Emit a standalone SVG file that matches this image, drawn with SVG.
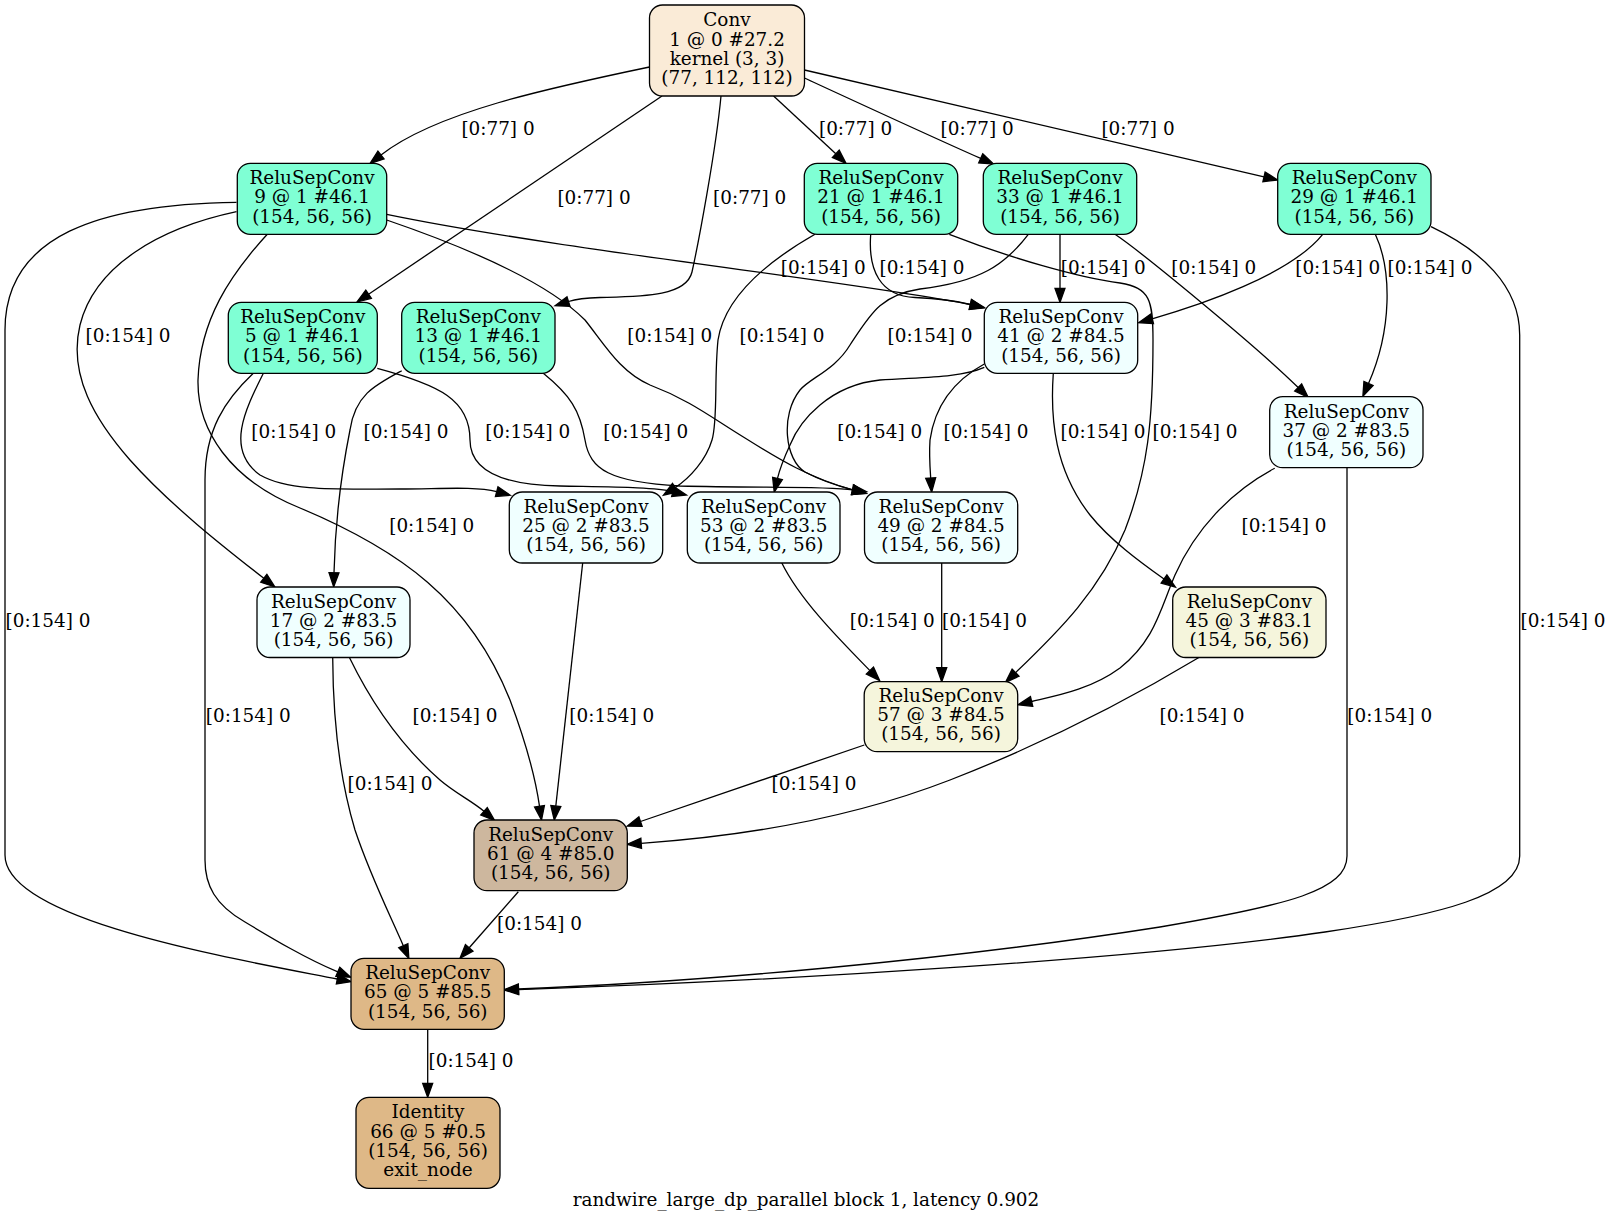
<svg xmlns="http://www.w3.org/2000/svg" width="1612" height="1224" viewBox="0 0 1612 1224">
<style>
text { font-family: "DejaVu Serif", "Liberation Serif", serif; font-size: 18.4px; text-anchor: middle; fill: #000; }
.node rect { stroke: #000; stroke-width: 1.3; }
.edge path { fill: none; stroke: #000; stroke-width: 1.3; marker-end: url(#ah); }
.c0 { fill: #FAEBD7; } .c1 { fill: #7FFFD4; } .c2 { fill: #F0FFFF; } .c3 { fill: #F5F5DC; } .c4 { fill: #CDB79E; } .c5 { fill: #DEB887; }
</style>
<defs>
<marker id="ah" viewBox="0 -5 14 10" refX="0" refY="0" markerWidth="14" markerHeight="10" markerUnits="userSpaceOnUse" orient="auto" overflow="visible">
<path d="M0,-5 L14,0 L0,5 z" fill="#000" stroke="#000" stroke-width="1.3"/>
</marker>
</defs>
<rect width="1612" height="1224" fill="#fff"/>
<g id="edges">
<g class="edge" id="e1_9"><path d="M649.5,67 C549,88 436,112 381,155"/><text x="498" y="135">[0:77] 0</text></g>
<g class="edge" id="e1_5"><path d="M662,96 L368.6,294.2"/><text x="594" y="204">[0:77] 0</text></g>
<g class="edge" id="e1_13"><path d="M721,96 C716,150 698,245 692,272 C686,297 640,296.5 600,297.5 C585,298 578,298.5 568.5,301.5"/><text x="749.7" y="204">[0:77] 0</text></g>
<g class="edge" id="e1_21"><path d="M773.6,96 L835.8,153.8"/><text x="855.6" y="135">[0:77] 0</text></g>
<g class="edge" id="e1_33"><path d="M804.5,78 C850,99 930,136 980.7,158.4"/><text x="977.2" y="135">[0:77] 0</text></g>
<g class="edge" id="e1_29"><path d="M804.5,70 L1264,176.8"/><text x="1138" y="135">[0:77] 0</text></g>
<g class="edge" id="e9_41"><path d="M386.7,214.3 C560,250 860,282 970.4,304.5"/><text x="823.3" y="274">[0:154] 0</text></g>
<g class="edge" id="e21_41"><path d="M870.7,234.3 C868,270 880,296 915,297.5 C940,298.5 955,300.5 970.4,304.5"/><text x="922" y="274">[0:154] 0</text></g>
<g class="edge" id="e33_41"><path d="M1060,234.3 L1060,288.3"/><text x="1103.3" y="274">[0:154] 0</text></g>
<g class="edge" id="e33_37"><path d="M1115,234.3 C1140,251 1255,345 1298.2,387.5"/><text x="1213.8" y="274">[0:154] 0</text></g>
<g class="edge" id="e29_41"><path d="M1322.7,234.3 C1290,275 1200,305 1152.1,318.8"/><text x="1337.7" y="274">[0:154] 0</text></g>
<g class="edge" id="e29_37"><path d="M1375.3,234.3 C1392,270 1392,330 1368.5,383.5"/><text x="1430" y="274">[0:154] 0</text></g>
<g class="edge" id="e9_17"><path d="M236.5,211.7 C160,228 95,265 80,325 C68,375 95,420 130,460 C170,505 225,548 263.8,578.3"/><text x="128" y="342">[0:154] 0</text></g>
<g class="edge" id="e9_49"><path d="M386.7,220 C480,252 550,285 585,320 C605,345 620,372 650,385 C690,400 715,420 745,438 C780,460 810,478 852.7,489.8"/><text x="669.8" y="342">[0:154] 0</text></g>
<g class="edge" id="e21_25"><path d="M815,234.3 C770,260 725,295 718,340 C714,380 718,420 712,440 C706,460 690,478 675.2,487.6"/><text x="782" y="342">[0:154] 0</text></g>
<g class="edge" id="e33_49"><path d="M1028.3,234.3 C1005,265 980,282 920,289 C880,295 870,315 850,345 C835,370 810,378 800,390 C780,415 785,460 805,472 C820,480 838,486 852.7,489.8"/><text x="930" y="342">[0:154] 0</text></g>
<g class="edge" id="e5_25"><path d="M263.3,373.3 C245,410 225,450 260,475 C290,492 340,489 400,489 C440,489 475,486 496.7,491.7"/><text x="293.8" y="438">[0:154] 0</text></g>
<g class="edge" id="e13_17"><path d="M401.7,370.7 C375,385 355,395 350,430 C340,480 335,530 334,572.7"/><text x="406" y="438">[0:154] 0</text></g>
<g class="edge" id="e5_53"><path d="M377.3,368.3 C440,385 470,400 470,440 C470,470 500,485 560,486 C610,487 655,487 672.9,491.6"/><text x="527.8" y="438">[0:154] 0</text></g>
<g class="edge" id="e13_49"><path d="M543.3,373.3 C570,395 580,410 585,440 C590,470 610,482 680,486 C760,488 825,486 852.7,489.8"/><text x="645.8" y="438">[0:154] 0</text></g>
<g class="edge" id="e41_53"><path d="M984.3,367.3 C960,378 920,377 880,380 C830,385 800,420 790,445 C784,458 780,468 777.5,478.4"/><text x="879.7" y="438">[0:154] 0</text></g>
<g class="edge" id="e41_49"><path d="M984.3,364 C955,380 935,405 930,440 C929,455 930,468 930.7,478"/><text x="986" y="438">[0:154] 0</text></g>
<g class="edge" id="e41_45"><path d="M1053.3,373.3 C1050,420 1055,470 1090,515 C1110,540 1140,562 1164,579"/><text x="1103" y="438">[0:154] 0</text></g>
<g class="edge" id="e21_57"><path d="M949.3,234.3 C1010,258 1080,278 1120,283 C1150,288 1153,300 1153,340 C1153,420 1148,470 1125,530 C1100,590 1060,630 1015.6,672.6"/><text x="1195" y="438">[0:154] 0</text></g>
<g class="edge" id="e9_61"><path d="M267.3,234.3 C230,275 200,320 198,380 C197,430 230,480 300,508 C400,550 470,600 510,700 C525,740 535,775 539.5,806.2"/><text x="431.7" y="531.7">[0:154] 0</text></g>
<g class="edge" id="e37_57"><path d="M1274.7,468.3 C1230,492 1195,530 1175,575 C1160,610 1155,640 1120,668 C1090,690 1055,696 1031.6,701.5"/><text x="1284" y="531.7">[0:154] 0</text></g>
<g class="edge" id="e9_65"><path d="M236.5,202.3 C100,204 5,235 5,330 L5,855 C5,920 230,958 337.3,979"/><text x="48" y="626.7">[0:154] 0</text></g>
<g class="edge" id="e53_57"><path d="M781.7,562.7 C800,600 840,640 869.9,670.6"/><text x="892.2" y="626.7">[0:154] 0</text></g>
<g class="edge" id="e49_57"><path d="M941.7,563 L941.7,667.7"/><text x="984.5" y="626.7">[0:154] 0</text></g>
<g class="edge" id="e29_65"><path d="M1431,226.7 C1480,250 1519.7,285 1519.7,335 L1519.7,856 C1519.7,895 1440,915 1325,932 C1150,958 800,980 518.5,989.6"/><text x="1563" y="626.7">[0:154] 0</text></g>
<g class="edge" id="e5_65"><path d="M253.3,373.3 C225,400 205,430 205,480 L205,860 C205,885 215,905 245,922 C275,940 305,958 337.8,971.9"/><text x="248.3" y="721.7">[0:154] 0</text></g>
<g class="edge" id="e17_61"><path d="M349.3,657.3 C370,700 400,745 440,780 C455,793 472,801 484,811.3"/><text x="455" y="721.7">[0:154] 0</text></g>
<g class="edge" id="e25_61"><path d="M582.7,562.7 L555.8,806.1"/><text x="611.8" y="721.7">[0:154] 0</text></g>
<g class="edge" id="e45_61"><path d="M1199.3,657.3 C1120,705 1040,745 950,780 C860,815 760,835 641.2,843.3"/><text x="1202" y="721.7">[0:154] 0</text></g>
<g class="edge" id="e37_65"><path d="M1347,467.7 L1347,856 C1347,890 1290,905 1160,927 C950,960 700,982 518.5,989"/><text x="1389.8" y="721.7">[0:154] 0</text></g>
<g class="edge" id="e17_65"><path d="M332.7,657.3 C333,720 340,780 355,830 C370,875 390,915 403.3,945.7"/><text x="390" y="790">[0:154] 0</text></g>
<g class="edge" id="e57_61"><path d="M864.3,745 L640.5,821.5"/><text x="814" y="790">[0:154] 0</text></g>
<g class="edge" id="e61_65"><path d="M518.3,891.7 L469.2,947.8"/><text x="539.5" y="930">[0:154] 0</text></g>
<g class="edge" id="e65_66"><path d="M427.7,1029.3 L427.7,1083.3"/><text x="471" y="1067.3">[0:154] 0</text></g>
</g>
<g id="n1" class="node"><rect class="c0" x="649.5" y="5" width="155" height="91" rx="13"/><text x="727" y="26.2">Conv</text><text x="727" y="45.5">1 @ 0 #27.2</text><text x="727" y="64.7">kernel (3, 3)</text><text x="727" y="84">(77, 112, 112)</text></g>
<g id="n9" class="node"><rect class="c1" x="237.3" y="163.3" width="149.4" height="71" rx="13"/><text x="312" y="184.1">ReluSepConv</text><text x="312" y="203.3">9 @ 1 #46.1</text><text x="312" y="222.5">(154, 56, 56)</text></g>
<g id="n21" class="node"><rect class="c1" x="804.3" y="163.3" width="153.4" height="71" rx="13"/><text x="881" y="184.1">ReluSepConv</text><text x="881" y="203.3">21 @ 1 #46.1</text><text x="881" y="222.5">(154, 56, 56)</text></g>
<g id="n33" class="node"><rect class="c1" x="983.3" y="163.3" width="153.4" height="71" rx="13"/><text x="1060" y="184.1">ReluSepConv</text><text x="1060" y="203.3">33 @ 1 #46.1</text><text x="1060" y="222.5">(154, 56, 56)</text></g>
<g id="n29" class="node"><rect class="c1" x="1277.7" y="163.3" width="153.3" height="71" rx="13"/><text x="1354.3" y="184.1">ReluSepConv</text><text x="1354.3" y="203.3">29 @ 1 #46.1</text><text x="1354.3" y="222.5">(154, 56, 56)</text></g>
<g id="n5" class="node"><rect class="c1" x="228.3" y="302.3" width="149" height="71" rx="13"/><text x="302.8" y="323.1">ReluSepConv</text><text x="302.8" y="342.3">5 @ 1 #46.1</text><text x="302.8" y="361.5">(154, 56, 56)</text></g>
<g id="n13" class="node"><rect class="c1" x="401.7" y="302.3" width="153.3" height="71" rx="13"/><text x="478.3" y="323.1">ReluSepConv</text><text x="478.3" y="342.3">13 @ 1 #46.1</text><text x="478.3" y="361.5">(154, 56, 56)</text></g>
<g id="n41" class="node"><rect class="c2" x="984.3" y="302.3" width="153.4" height="71" rx="13"/><text x="1061" y="323.1">ReluSepConv</text><text x="1061" y="342.3">41 @ 2 #84.5</text><text x="1061" y="361.5">(154, 56, 56)</text></g>
<g id="n37" class="node"><rect class="c2" x="1269.7" y="396.7" width="153.3" height="71" rx="13"/><text x="1346.3" y="417.5">ReluSepConv</text><text x="1346.3" y="436.7">37 @ 2 #83.5</text><text x="1346.3" y="455.9">(154, 56, 56)</text></g>
<g id="n25" class="node"><rect class="c2" x="509.3" y="492" width="153.4" height="71" rx="13"/><text x="586" y="512.8">ReluSepConv</text><text x="586" y="532">25 @ 2 #83.5</text><text x="586" y="551.2">(154, 56, 56)</text></g>
<g id="n53" class="node"><rect class="c2" x="687.3" y="492" width="152.7" height="71" rx="13"/><text x="763.7" y="512.8">ReluSepConv</text><text x="763.7" y="532">53 @ 2 #83.5</text><text x="763.7" y="551.2">(154, 56, 56)</text></g>
<g id="n49" class="node"><rect class="c2" x="864.5" y="492" width="153.2" height="71" rx="13"/><text x="941.1" y="512.8">ReluSepConv</text><text x="941.1" y="532">49 @ 2 #84.5</text><text x="941.1" y="551.2">(154, 56, 56)</text></g>
<g id="n17" class="node"><rect class="c2" x="257" y="587" width="153" height="70.5" rx="13"/><text x="333.5" y="607.5">ReluSepConv</text><text x="333.5" y="626.7">17 @ 2 #83.5</text><text x="333.5" y="645.9">(154, 56, 56)</text></g>
<g id="n45" class="node"><rect class="c3" x="1172.7" y="587" width="153.3" height="70.5" rx="13"/><text x="1249.3" y="607.5">ReluSepConv</text><text x="1249.3" y="626.7">45 @ 3 #83.1</text><text x="1249.3" y="645.9">(154, 56, 56)</text></g>
<g id="n57" class="node"><rect class="c3" x="864.2" y="681.7" width="153.5" height="70" rx="13"/><text x="941" y="702">ReluSepConv</text><text x="941" y="721.2">57 @ 3 #84.5</text><text x="941" y="740.4">(154, 56, 56)</text></g>
<g id="n61" class="node"><rect class="c4" x="474" y="820" width="153.3" height="70.7" rx="13"/><text x="550.7" y="840.6">ReluSepConv</text><text x="550.7" y="859.8">61 @ 4 #85.0</text><text x="550.7" y="879">(154, 56, 56)</text></g>
<g id="n65" class="node"><rect class="c5" x="351" y="958.3" width="153.3" height="71" rx="13"/><text x="427.7" y="979.1">ReluSepConv</text><text x="427.7" y="998.3">65 @ 5 #85.5</text><text x="427.7" y="1017.5">(154, 56, 56)</text></g>
<g id="n66" class="node"><rect class="c5" x="356" y="1097.3" width="144" height="91" rx="13"/><text x="428" y="1118.4">Identity</text><text x="428" y="1137.7">66 @ 5 #0.5</text><text x="428" y="1156.9">(154, 56, 56)</text><text x="428" y="1176.2">exit_node</text></g>
<text id="title" x="806" y="1206">randwire_large_dp_parallel block 1, latency 0.902</text>
</svg>
